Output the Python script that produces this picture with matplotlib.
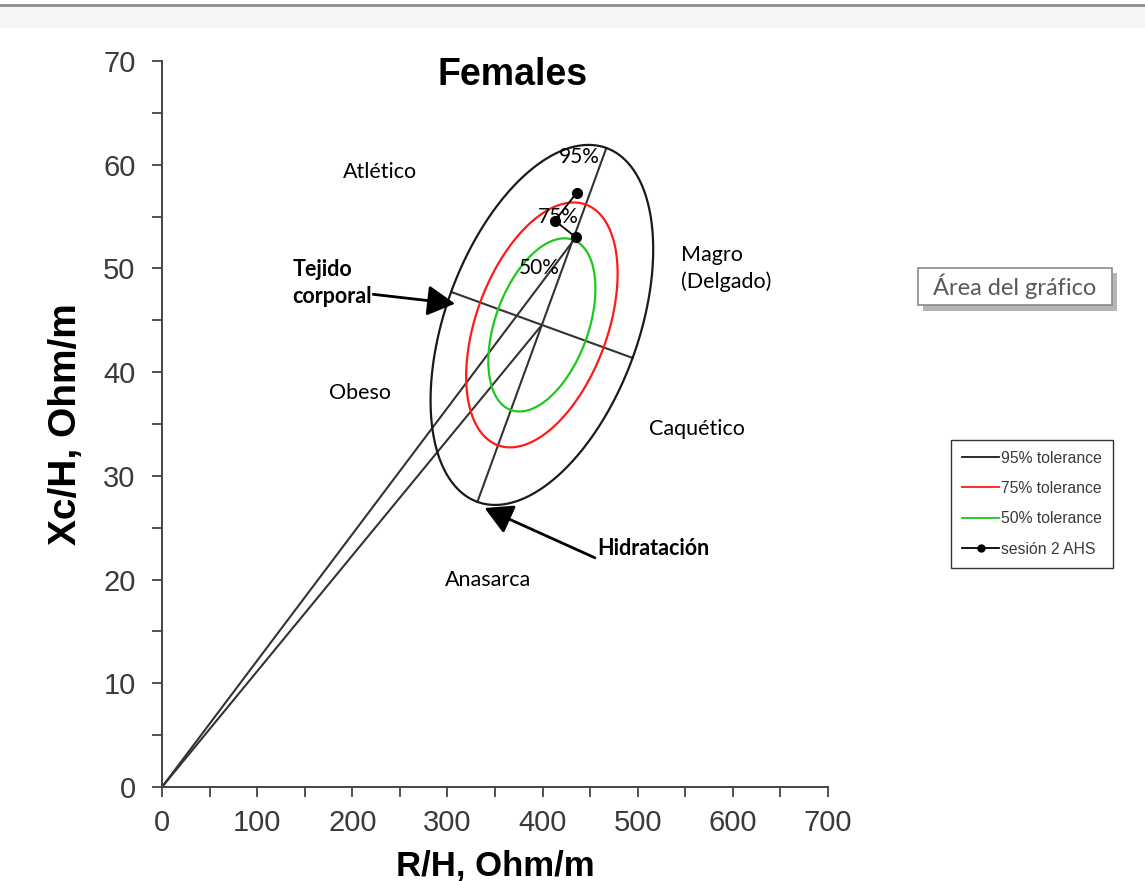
import numpy as np
import matplotlib
matplotlib.use("Agg")
import matplotlib.pyplot as plt
from matplotlib.lines import Line2D
from matplotlib.patches import Rectangle, Polygon

# reference population (tolerance ellipses)
mean_R = 399.3
mean_Xc = 44.55
sd_R = 47.8
sd_Xc = 7.09
rho = 0.42
levels = [0.95, 0.75, 0.50]
level_colors = ["#1a1a1a", "#ff1a1a", "#1ec81e"]
level_names = ["95% tolerance", "75% tolerance", "50% tolerance"]
level_text = ["95%", "75%", "50%"]
level_text_pos = [(439, 60.7), (417, 55.0), (396, 50.0)]

# patient measurements
sesion_R = [436, 413, 435]
sesion_Xc = [57.3, 54.6, 53.0]

# region labels
regions = [("Atlético", 229, 59.3), ("Obeso", 208, 38.0), ("Caquético", 562, 34.5),
           ("Anasarca", 343, 20.0)]

plt.rcParams["font.family"] = ["Liberation Sans", "DejaVu Sans"]

fig = plt.figure(figsize=(11.45, 8.81), dpi=100)
ax = fig.add_axes([0.1415, 0.1067, 0.5816, 0.8241])
ax.set_xlim(0, 700)
ax.set_ylim(0, 70)


def ellipse(level, n=600):
    k = np.sqrt(-2 * np.log(1 - level))
    cov = np.array([[sd_R ** 2, rho * sd_R * sd_Xc], [rho * sd_R * sd_Xc, sd_Xc ** 2]])
    L = np.linalg.cholesky(cov)
    t = np.linspace(0, 2 * np.pi, n, endpoint=False)
    p = k * (L @ np.vstack([np.cos(t), np.sin(t)]))
    return mean_R + p[0], mean_Xc + p[1]


for lev, col in zip(levels, level_colors):
    ex, ey = ellipse(lev)
    ax.add_patch(Polygon(np.column_stack([ex, ey]), closed=True, fill=False,
                         edgecolor=col, lw=1.6, zorder=3))

# axes of the 95% ellipse, as seen on the page
ex, ey = ellipse(levels[0])
disp = ax.transData.transform(np.column_stack([ex, ey]))
c = ax.transData.transform([mean_R, mean_Xc])
d = np.hypot(disp[:, 0] - c[0], disp[:, 1] - c[1])
inv = ax.transData.inverted()
for i in [np.argmax(d), np.argmin(d)]:
    p1 = disp[i]
    p2 = 2 * c - p1
    a = inv.transform([p1, p2])
    ax.plot(a[:, 0], a[:, 1], color="#333333", lw=1.5, zorder=2)

# vectors from origin
for vx, vy in [(mean_R, mean_Xc), (sesion_R[-1], sesion_Xc[-1])]:
    ax.plot([0, vx], [0, vy], color="#333333", lw=1.5, zorder=2)

ax.plot(sesion_R, sesion_Xc, color="black", lw=1.3, marker="o", ms=7, zorder=5)

cal = ["Lato", "DejaVu Sans"]
for txt, (tx, ty) in zip(level_text, level_text_pos):
    ax.text(tx, ty, txt, ha="center", va="center", fontsize=15, family=cal, zorder=4)
for txt, tx, ty in regions:
    ax.text(tx, ty, txt, ha="center", va="center", fontsize=15.5, family=cal)
ax.text(546, 50, "Magro\n(Delgado)", ha="left", va="center", fontsize=15.5,
        family=cal, linespacing=1.35)
ax.text(137, 48.6, "Tejido\ncorporal", ha="left", va="center", fontsize=15.5,
        family=cal, fontweight="bold", linespacing=1.35)
ax.text(458, 23.0, "Hidratación", ha="left", va="center", fontsize=15.5,
        family=cal, fontweight="bold")

arrow = dict(arrowstyle="-|>,head_length=1.0,head_width=0.55", color="black",
             lw=2, mutation_scale=17, shrinkA=0, shrinkB=0)
ax.annotate("", xy=(308, 46.6), xytext=(222, 47.5), arrowprops=arrow)
ax.annotate("", xy=(339, 26.9), xytext=(455, 22.1), arrowprops=arrow)

ax.text(368, 68.6, "Females", ha="center", va="center", fontsize=27, fontweight="bold")

# axes styling
for s in ["top", "right"]:
    ax.spines[s].set_visible(False)
for s in ["left", "bottom"]:
    ax.spines[s].set_color("#444444")
    ax.spines[s].set_linewidth(1.4)
ax.set_xticks(np.arange(0, 701, 100))
ax.set_xticks(np.arange(50, 701, 100), minor=True)
ax.set_yticks(np.arange(0, 71, 10))
ax.set_yticks(np.arange(5, 71, 10), minor=True)
ax.tick_params(which="both", direction="out", length=7, width=1.3, colors="#444444")
ax.tick_params(axis="x", which="major", labelsize=21, pad=9, labelcolor="#3a3a3a")
ax.tick_params(axis="y", which="major", labelsize=21, pad=12, labelcolor="#3a3a3a")
ax.set_xlabel("R/H, Ohm/m", fontsize=25, fontweight="bold", labelpad=9)
ax.set_ylabel("Xc/H, Ohm/m", fontsize=28, fontweight="bold", labelpad=14)

handles = [Line2D([], [], color=col, lw=1.3) for col in level_colors]
handles.append(Line2D([], [], color="black", lw=1.3, marker="o", ms=5))
leg = fig.legend(handles, level_names + ["sesión 2 AHS"], loc="upper left",
                 bbox_to_anchor=(0.831, 0.501), bbox_transform=fig.transFigure,
                 fontsize=11.3, frameon=True, fancybox=False, handlelength=2.35,
                 handletextpad=0.1, labelspacing=0.98, borderpad=0.7,
                 borderaxespad=0)
leg.get_frame().set_edgecolor("black")
leg.get_frame().set_linewidth(1.0)
for t in leg.get_texts():
    t.set_color("#3a3a3a")

# "Área del gráfico" tooltip box with shadow
fig.add_artist(Rectangle((0.8062, 0.6475), 0.1695, 0.0425, transform=fig.transFigure,
                         fc="#b5b5b5", ec="none"))
fig.add_artist(Rectangle((0.8017, 0.6538), 0.1695, 0.0420, transform=fig.transFigure,
                         fc="white", ec="#8a8a8a", lw=1.2))
fig.text(0.8864, 0.6748, "Área del gráfico", ha="center", va="center",
         fontsize=17, family=cal, color="#595959")

# page frame at the top
fig.add_artist(Rectangle((0, 0.968), 1, 0.024, transform=fig.transFigure,
                         fc="#f6f6f6", ec="none"))
fig.add_artist(Line2D([0, 1], [0.9945, 0.9945], transform=fig.transFigure,
                      color="#8c8c8c", lw=2))

fig.savefig("out.png", dpi=100)
